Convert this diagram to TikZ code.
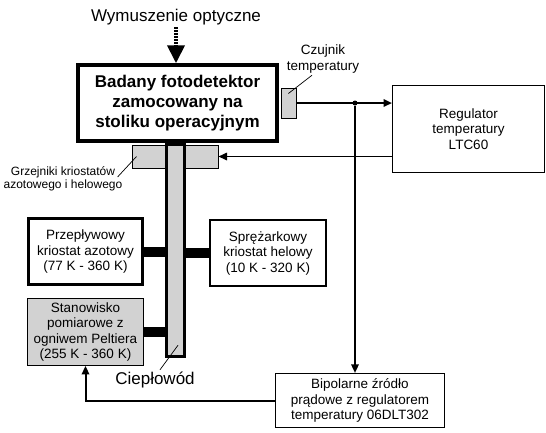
\documentclass[tikz,border=0pt]{standalone}
\usepackage{fontspec}
\setmainfont{Liberation Sans}
\usetikzlibrary{positioning,arrows.meta}
\tikzset{
	every node/.style = {font=\fontsize{13.5}{15.5}\selectfont, inner sep = 2},
	every text node part/.style={align=center},
	>={Triangle[width=7.5pt,length=8.5pt]},
	block/.style={draw, fill=white, line width=1pt},
	grayblock/.style={draw, fill=gray!35, line width=0.9pt},
	bar/.style={line width=10pt},
	wire/.style={line width=1.6pt},
	leader/.style={line width=0.7pt},
	bigtext/.style={font=\fontsize{17}{20}\selectfont},
	smalltext/.style={font=\fontsize{12}{13.5}\selectfont}
}

\begin{document}
\begin{tikzpicture}[x=1pt,y=-1pt]
		\useasboundingbox (0,0) rectangle (546,432);
		\node(det)[block, line width=3.5pt, minimum width=199, minimum height=76, font=\bfseries\fontsize{17}{20}\selectfont] at (177.5,103) {Badany fotodetektor\\zamocowany na\\stoliku operacyjnym};
		\node(heat)[grayblock, line width=1pt, minimum width=86, minimum height=23, below=1.75pt of det, xshift=-2.5pt] {};
		\node(pipe)[grayblock, line width=3.5pt, minimum width=18, minimum height=212, below=0pt of det, xshift=-2pt] {};
		\node(sens)[grayblock, line width=0.8pt, minimum width=15, minimum height=30, right=1.75pt of det] {};
		\node(reg)[block, minimum width=152, minimum height=87] at (468.5,129) {Regulator\\temperatury\\LTC60};
		\node(prze)[block, line width=3.3pt, minimum width=114, minimum height=66] at (85.5,251.5) {Przepływowy\\kriostat azotowy\\(77 K - 360 K)};
		\node(spr)[block, line width=2pt, minimum width=116, minimum height=66] at (268,253) {Sprężarkowy\\kriostat helowy\\(10 K - 320 K)};
		\node(stan)[grayblock, minimum width=116, minimum height=67] at (85.5,332) {Stanowisko\\pomiarowe z\\ogniwem Peltiera\\(255 K - 360 K)};
		\node(bip)[block, line width=1.2pt, minimum width=169, minimum height=54] at (360,400.5) {Bipolarne źródło\\prądowe z regulatorem\\temperatury 06DLT302};
		\node(tap)[circle, fill, inner sep=0, minimum size=5pt] at (355,103) {};
		
		% labels
		\node(opt)[bigtext] at (176,17) {Wymuszenie optyczne};
		\node(sensl) at (323,59) {Czujnik\\temperatury};
		\node(heatl)[smalltext] at (63,179) {Grzejniki kriostatów\\azotowego i helowego};
		\node(pipel)[bigtext] at (155,380) {Ciepłowód};
		
		\draw[leader] ([xshift=-11pt]sensl.south) -- ([yshift=9.5pt]sens.center);
		\draw[leader] ([xshift=-7pt, yshift=2pt]heatl.east) -- ([xshift=5pt]heat.west);
		\draw[leader] ([xshift=5pt]pipel.north) -- ([xshift=2.5pt, yshift=13pt]pipe.south);
		
		% cold fingers
		\draw[bar] (prze.east) -- (prze.east -| pipe.west);
		\draw[bar] (stan.east) -- (stan.east -| pipe.west);
		\draw[bar] (pipe.east |- spr.west) -- (spr.west);
		
		% signals
		\draw[line width=4pt, dash pattern=on 1.5pt off 1.5pt, -{Triangle[width=17pt,length=18pt]}] (opt.south) -- (opt.south |- det.north);
		\draw[wire, line width=2.6pt, ->] (sens.east) -- (sens.east -| reg.west);
		\draw[wire, ->] (tap) -- (tap |- bip.north);
		\draw[wire, ->] (reg.west |- heat.east) -- (heat.east);
		\draw[wire, line width=2pt, ->] (bip.west) -| (stan.south);
\end{tikzpicture}
\end{document}
